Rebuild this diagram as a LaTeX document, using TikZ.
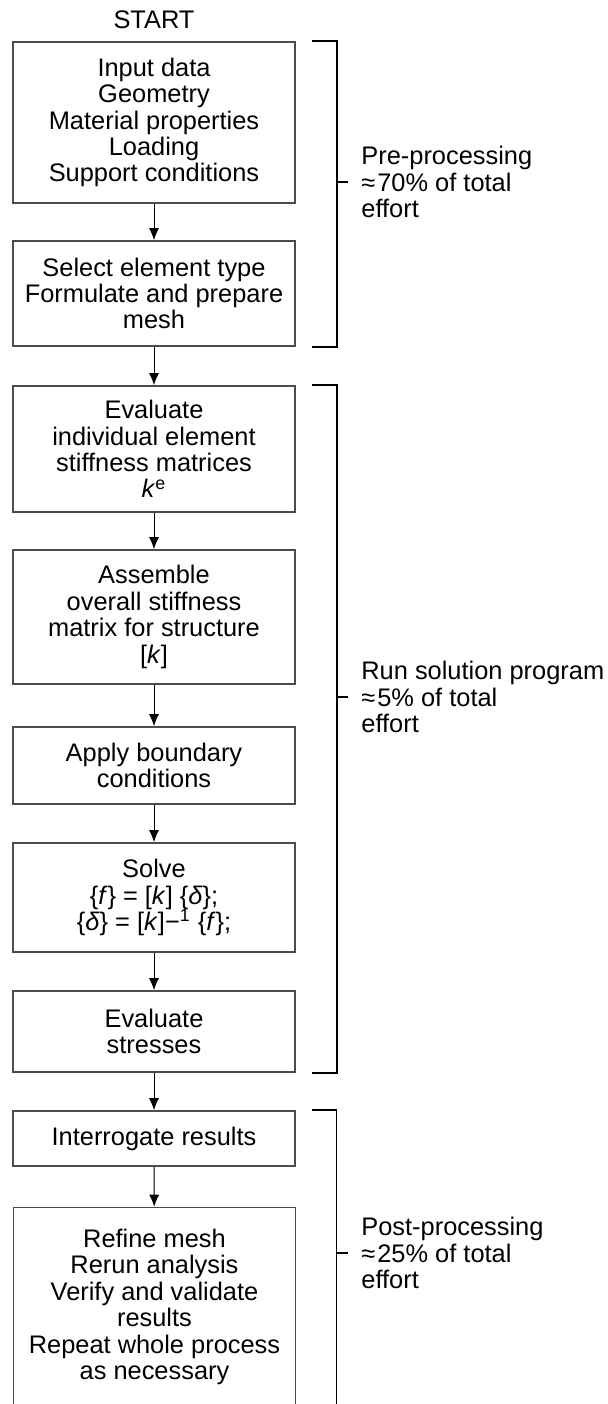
\documentclass[tikz,border=0pt]{standalone}
\usepackage{fontspec}
\setmainfont{Liberation Sans}
\usetikzlibrary{arrows.meta}
\begin{document}
\begin{tikzpicture}[x=0.5pt,y=-0.5pt,>={Latex[length=6pt,width=5pt]},
  stepbox/.style={draw=black!70,line width=0.8pt,minimum width=141pt,align=center,inner sep=2pt,font=\fontsize{12.7}{13.2}\selectfont},
  flow/.style={->,line width=0.5pt},
  brace/.style={line width=0.8pt},
  note/.style={anchor=west,align=left,inner sep=0pt,font=\fontsize{12.7}{13.2}\selectfont}]
\useasboundingbox (0,0) rectangle (607,1404);
\node[font=\fontsize{12.7}{13.2}\selectfont] (start) at (154,20) {START};
\node[stepbox,minimum height=80.5pt] (input) at (154,122.5) {Input data\\Geometry\\Material properties\\Loading\\Support conditions};
\node[stepbox,minimum height=52.5pt] (mesh) at (154,293.5) {Select element type\\Formulate and prepare\\mesh};
\node[stepbox,minimum height=63pt] (elem) at (154,449) {Evaluate\\individual element\\stiffness matrices\\\textit{k}\textsuperscript{e}};
\node[stepbox,minimum height=67pt] (assem) at (154,617) {Assemble\\overall stiffness\\matrix for structure\\{[}\textit{k}{]}};
\node[stepbox,minimum height=38.5pt] (bound) at (154,765.5) {Apply boundary\\conditions};
\node[stepbox,minimum height=54.5pt] (solve) at (154,897.5) {Solve\\\{\textit{f}\} = [\textit{k}] \{\textit{δ}\};\\\{\textit{δ}\} = [\textit{k}]−\textsuperscript{1} \{\textit{f}\};};
\node[stepbox,minimum height=40.5pt] (stress) at (154,1031.5) {Evaluate\\stresses};
\node[stepbox,minimum height=27.5pt] (interr) at (154,1138.5) {Interrogate results};
\node[stepbox,minimum height=99.5pt] (refine) at (154.5,1307) {Refine mesh\\Rerun analysis\\Verify and validate\\results\\Repeat whole process\\as necessary};
% arrows
\draw[flow] (input) -- (mesh);
\draw[flow] (mesh) -- (elem);
\draw[flow] (elem) -- (assem);
\draw[flow] (assem) -- (bound);
\draw[flow] (bound) -- (solve);
\draw[flow] (solve) -- (stress);
\draw[flow] (stress) -- (interr);
\draw[flow] (interr) -- (refine);
% brackets
\draw[brace] ([xshift=8pt]input.north east) -| ([xshift=20.5pt]mesh.south east) -- ([xshift=8pt]mesh.south east);
\draw[brace] ([xshift=8pt]elem.north east) -| ([xshift=20.5pt]stress.south east) -- ([xshift=8pt]stress.south east);
\draw[brace] ([xshift=8pt]interr.north east) -| ([xshift=20pt]refine.south east) -- ([xshift=7.5pt]refine.south east);
\draw[brace] (336,182) -- (348,182);
\draw[brace] (336,697) -- (348,697);
\draw[brace] (336,1253) -- (348,1253);
\node[note] (pre) at (361,182) {Pre-processing\\≈\kern1pt70\% of total\\effort};
\node[note] (run) at (361,697) {Run solution program\\≈\kern1pt5\% of total\\effort};
\node[note] (post) at (361,1253) {Post-processing\\≈\kern1pt25\% of total\\effort};
\end{tikzpicture}
\end{document}
